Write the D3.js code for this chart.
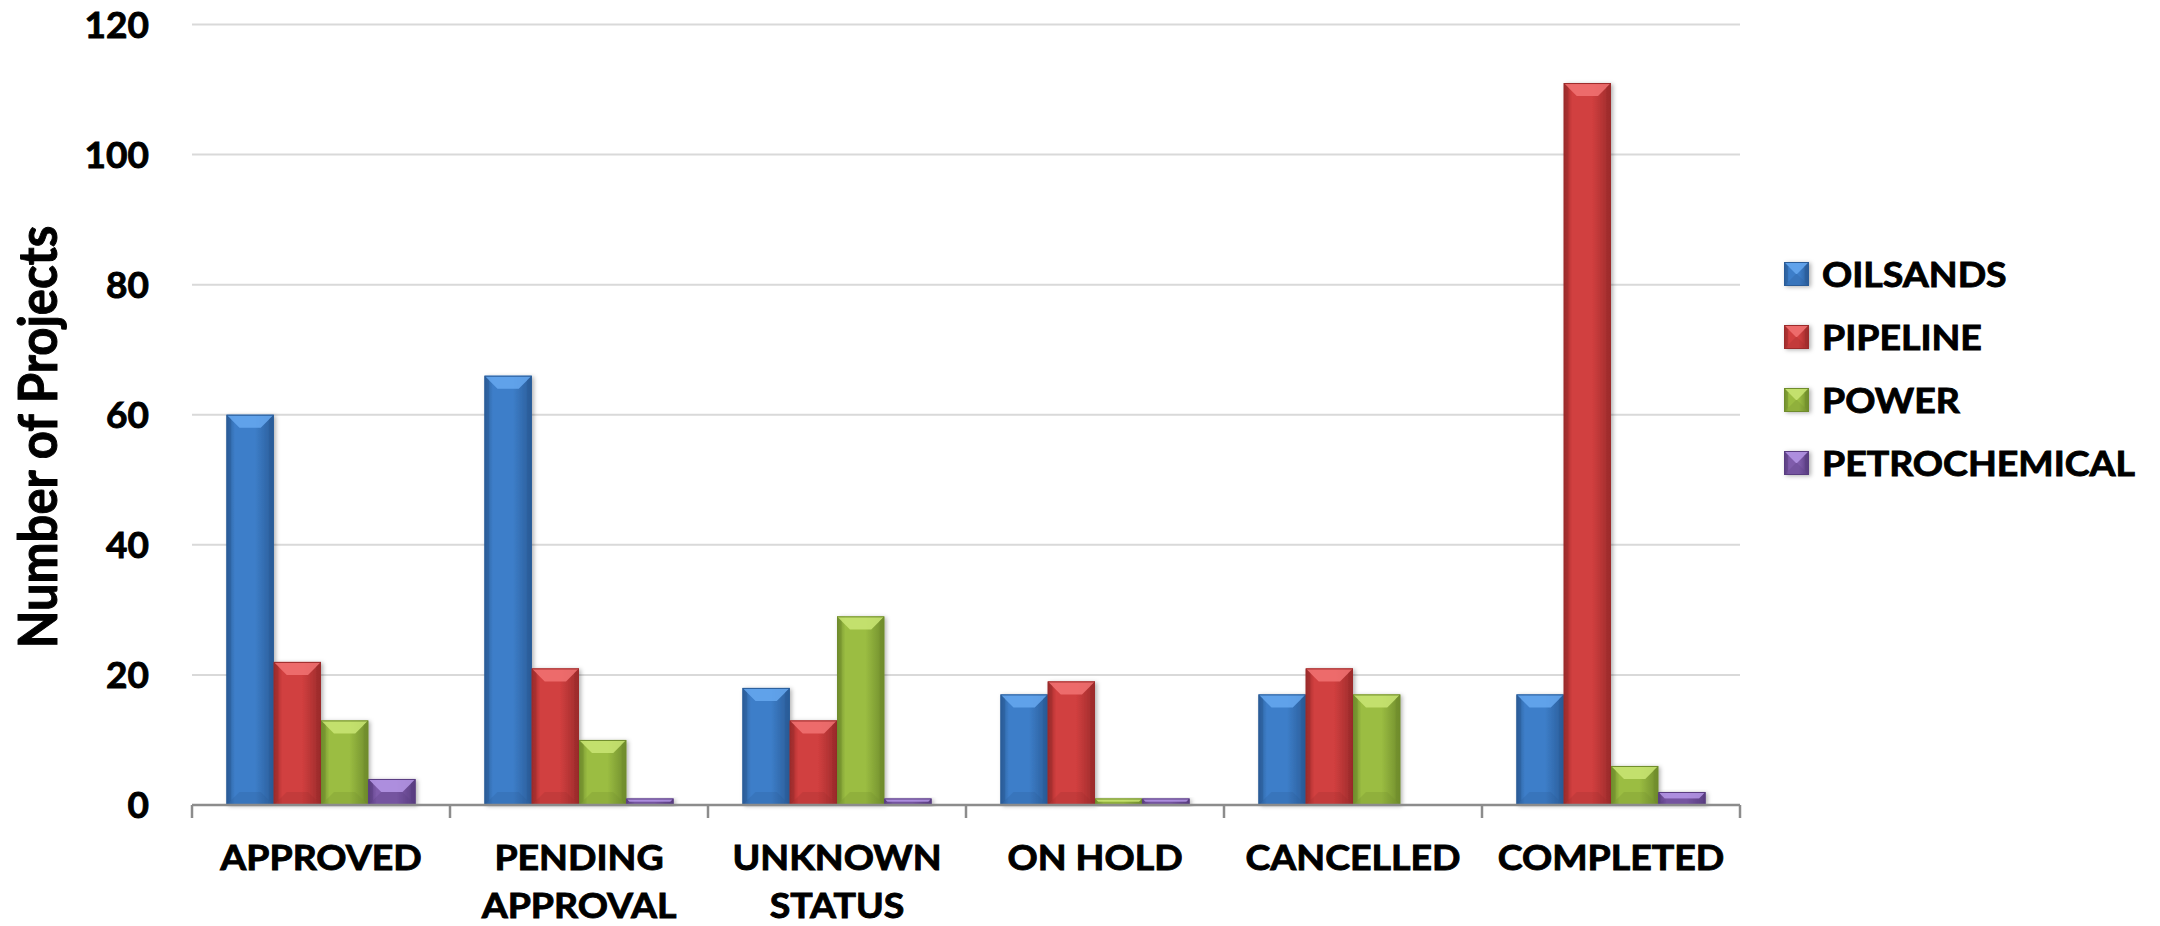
<!DOCTYPE html>
<html lang="en">
<head>
    <meta charset="utf-8" />
    <script src="https://d3js.org/d3.v7.min.js"></script>
    <title>Number of Projects</title>
    <style>
        body { margin: 0; background: #ffffff; }
        text { font-family: Lato, "Open Sans", sans-serif; font-weight: bold; fill: #000; stroke: #000; stroke-width: 0.9px; }
    </style>
</head>
<body>
    <script>
        // Data
        const categories = ["APPROVED", "PENDING APPROVAL", "UNKNOWN STATUS", "ON HOLD", "CANCELLED", "COMPLETED"];
        const seriesNames = ["OILSANDS", "PIPELINE", "POWER", "PETROCHEMICAL"];
        const oilsands      = [60, 66, 18, 17, 17, 17];
        const pipeline      = [22, 21, 13, 19, 21, 111];
        const power         = [13, 10, 29, 1, 17, 6];
        const petrochemical = [4, 1, 1, 1, 0, 2];
        const yTicks = [0, 20, 40, 60, 80, 100, 120];

        const seriesValues = [oilsands, pipeline, power, petrochemical];
        // base / light / dark shades per series
        const colors = [
            { base: "#3d7ec9", light: "#66a8f0", dark: "#2a5c98" },
            { base: "#d13f3f", light: "#f27373", dark: "#9c2b2b" },
            { base: "#9bbd42", light: "#cae674", dark: "#6f8c2c" },
            { base: "#7f5cab", light: "#b596e6", dark: "#593d80" }
        ];

        const width = 2160;
        const height = 926;
        const plotLeft = 192, plotRight = 1740;
        const plotTop = 24.5, plotBottom = 805;
        const stretch = 1.07; // text in the picture is a bit wide

        const svg = d3.select("body")
            .append("svg")
            .attr("width", width)
            .attr("height", height);

        const defs = svg.append("defs");
        defs.append("filter")
            .attr("id", "shadow")
            .attr("x", "-20%").attr("y", "-20%").attr("width", "150%").attr("height", "150%")
            .append("feDropShadow")
            .attr("dx", 2).attr("dy", 1)
            .attr("stdDeviation", 2)
            .attr("flood-color", "#000")
            .attr("flood-opacity", 0.3);

        colors.forEach((c, i) => {
            const g = defs.append("linearGradient")
                .attr("id", "grad" + i)
                .attr("x1", "0%").attr("x2", "100%").attr("y1", "0%").attr("y2", "0%");
            g.append("stop").attr("offset", "0%").attr("stop-color", c.dark);
            g.append("stop").attr("offset", "18%").attr("stop-color", c.base);
            g.append("stop").attr("offset", "60%").attr("stop-color", c.base);
            g.append("stop").attr("offset", "100%").attr("stop-color", c.dark);
        });

        // Scales
        const x0 = d3.scaleBand()
            .domain(categories)
            .range([plotLeft, plotRight]);

        const x1 = d3.scaleBand()
            .domain(seriesNames)
            .range([34.5, x0.bandwidth() - 34.5]);

        const y = d3.scaleLinear()
            .domain([0, 120])
            .range([plotBottom, plotTop]);

        // Gridlines
        svg.append("g")
            .selectAll("line")
            .data(yTicks.filter(d => d > 0))
            .enter()
            .append("line")
            .attr("x1", plotLeft)
            .attr("x2", plotRight)
            .attr("y1", d => y(d))
            .attr("y2", d => y(d))
            .attr("stroke", "#d9d9d9")
            .attr("stroke-width", 2);

        // Y tick labels
        svg.append("g")
            .selectAll("text")
            .data(yTicks)
            .enter()
            .append("text")
            .attr("x", 149)
            .attr("y", d => y(d))
            .attr("dy", "0.36em")
            .attr("text-anchor", "end")
            .attr("font-size", 37)
            .text(d => d);

        // Y axis title
        svg.append("text")
            .attr("transform", "translate(57, 437) rotate(-90) scale(1, 1.08)")
            .attr("text-anchor", "middle")
            .attr("font-size", 49)
            .text("Number of Projects");

        // Bevelled bar drawing
        function drawBar(g, bx, by, bw, bh, ci) {
            const c = colors[ci];
            if (bh <= 0) return;
            const b = Math.min(13, bh / 2, bw / 2);
            g.append("rect")
                .attr("x", bx).attr("y", by)
                .attr("width", bw).attr("height", bh)
                .attr("fill", "url(#grad" + ci + ")")
                .attr("filter", "url(#shadow)");
            // top bevel
            g.append("polygon")
                .attr("points", [[bx, by], [bx + bw, by], [bx + bw - b, by + b], [bx + b, by + b]].join(" "))
                .attr("fill", c.light).attr("opacity", 0.85);
            // left bevel
            g.append("polygon")
                .attr("points", [[bx, by], [bx + b * 0.35, by + b * 0.35], [bx + b * 0.35, by + bh - b * 0.35], [bx, by + bh]].join(" "))
                .attr("fill", c.dark).attr("opacity", 0.5);
            // right bevel
            g.append("polygon")
                .attr("points", [[bx + bw, by], [bx + bw - b * 0.35, by + b * 0.35], [bx + bw - b * 0.35, by + bh - b * 0.35], [bx + bw, by + bh]].join(" "))
                .attr("fill", c.dark).attr("opacity", 0.6);
            // bottom bevel
            g.append("polygon")
                .attr("points", [[bx, by + bh], [bx + bw, by + bh], [bx + bw - b, by + bh - b], [bx + b, by + bh - b]].join(" "))
                .attr("fill", c.dark).attr("opacity", 0.25);
            g.append("rect")
                .attr("x", bx + 0.5).attr("y", by + 0.5)
                .attr("width", bw - 1).attr("height", Math.max(0, bh - 1))
                .attr("fill", "none")
                .attr("stroke", c.dark).attr("stroke-width", 1);
        }

        // Bars
        const barsG = svg.append("g");
        categories.forEach((cat, i) => {
            seriesNames.forEach((s, j) => {
                const v = seriesValues[j][i];
                drawBar(barsG, x0(cat) + x1(s), y(v), x1.bandwidth(), y(0) - y(v), j);
            });
        });

        // X axis line and ticks
        const axisG = svg.append("g");
        axisG.append("line")
            .attr("x1", plotLeft).attr("x2", plotRight)
            .attr("y1", plotBottom).attr("y2", plotBottom)
            .attr("stroke", "#8c8c8c")
            .attr("stroke-width", 2.5);
        axisG.selectAll(".tick")
            .data(categories.map(c => x0(c)).concat([plotRight]))
            .enter()
            .append("line")
            .attr("x1", d => d).attr("x2", d => d)
            .attr("y1", plotBottom).attr("y2", plotBottom + 13)
            .attr("stroke", "#8c8c8c")
            .attr("stroke-width", 2.5);

        // X labels (wrapped on two lines)
        categories.forEach(cat => {
            const words = cat.split(" ");
            const lines = cat === "ON HOLD" ? [cat] : words;
            const cx = x0(cat) + x0.bandwidth() / 2;
            lines.forEach((w, k) => {
                svg.append("text")
                    .attr("transform", "translate(" + cx + "," + (870 + k * 48) + ") scale(" + stretch + ",1)")
                    .attr("text-anchor", "middle")
                    .attr("font-size", 35)
                    .text(w);
            });
        });

        // Legend
        const legend = svg.append("g").attr("id", "legend");
        seriesNames.forEach((s, i) => {
            const cy = 274 + i * 63;
            drawBar(legend, 1784, cy - 12, 25, 24, i);
            legend.append("text")
                .attr("transform", "translate(1822," + cy + ") scale(" + stretch + ",1)")
                .attr("dy", "0.36em")
                .attr("font-size", 35)
                .text(s);
        });
    </script>
</body>
</html>
